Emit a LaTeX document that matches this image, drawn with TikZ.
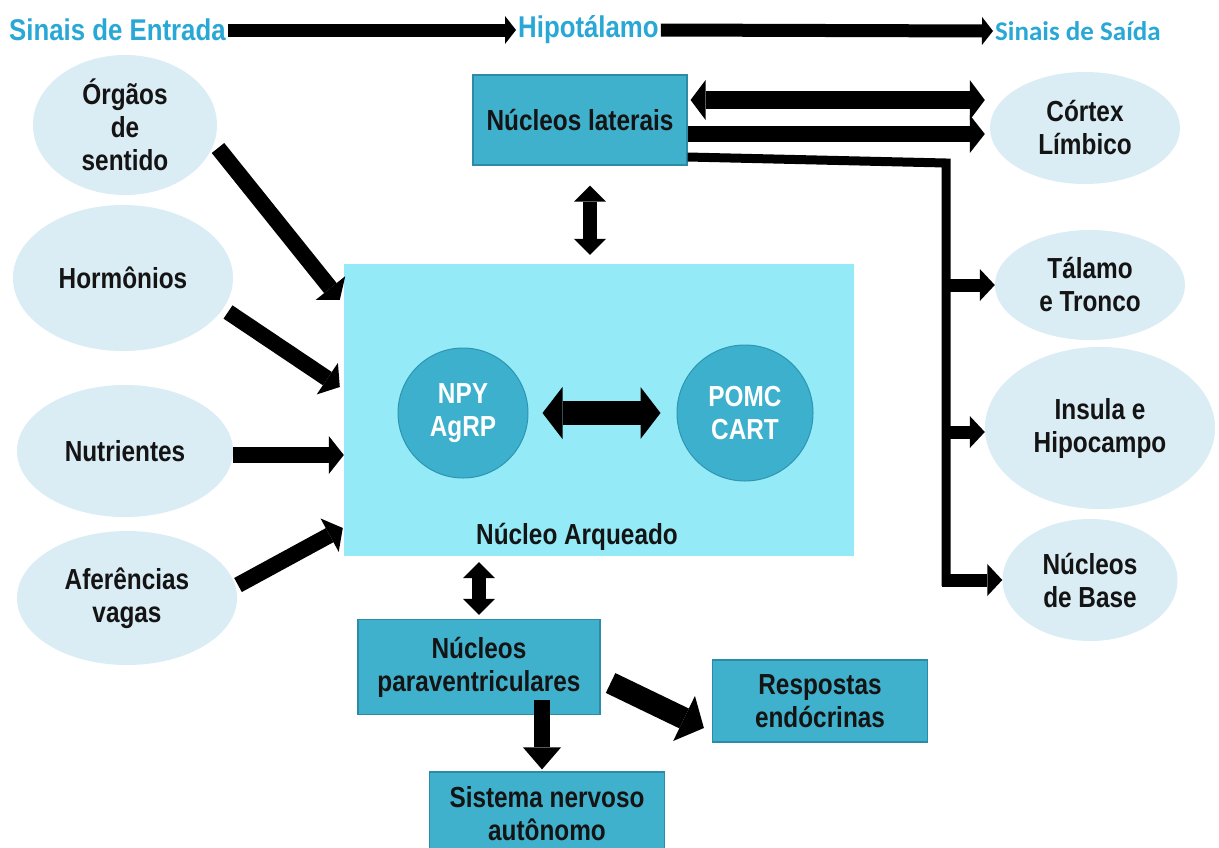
\documentclass[tikz,border=0pt]{standalone}
\usepackage{fontspec}
\setmainfont{Liberation Sans}
\newfontfamily\nar[FakeStretch=0.84]{Liberation Sans}
\newfontfamily\tnar[FakeStretch=0.86]{Liberation Sans}
\newfontfamily\calib{Carlito}
\usetikzlibrary{shapes.geometric,arrows.meta,calc}
\definecolor{boxc}{RGB}{64,177,205}
\definecolor{boxd}{RGB}{44,140,168}
\definecolor{arqc}{RGB}{148,235,247}
\definecolor{circc}{RGB}{60,176,204}
\definecolor{circd}{RGB}{46,150,178}
\definecolor{ellc}{RGB}{218,236,244}
\definecolor{titlec}{RGB}{41,168,214}
\definecolor{txtc}{RGB}{20,20,20}
\tikzset{
  txt/.style={font=\nar\bfseries\fontsize{29}{33}\selectfont, align=center, text=txtc},
  ell/.style={ellipse, fill=ellc, draw=none, inner sep=0pt, txt},
  bx/.style={rectangle, fill=boxc, draw=boxd, line width=1.2pt, inner sep=0pt, txt},
  circ/.style={circle, fill=circc, draw=circd, line width=1pt, inner sep=0pt, txt, text=white},
  ttl/.style={font=\tnar\bfseries\fontsize{30}{32}\selectfont, text=titlec, inner sep=2pt},
  ttlarr/.style={draw=black, line width=13pt, -{Triangle[length=11pt,width=28pt,line width=0pt]}},
  inarr/.style={draw=black, line width=16pt, -{Triangle[length=15pt,width=38pt,line width=0pt]}},
  dblarr/.style={draw=black, line width=18pt, {Triangle[length=15pt,width=40pt,line width=0pt]}-{Triangle[length=15pt,width=40pt,line width=0pt]}},
  vdbl/.style={draw=black, line width=14pt, {Triangle[length=16pt,width=32pt,line width=0pt]}-{Triangle[length=16pt,width=32pt,line width=0pt]}},
  brarr/.style={draw=black, line width=13pt, -{Triangle[length=15pt,width=32pt,line width=0pt]}},
  bigarr/.style={draw=black, line width=22pt, -{Triangle[length=22pt,width=50pt,line width=0pt]}},
  busline/.style={draw=black, line width=9pt, line join=miter}
}
\begin{document}
\begin{tikzpicture}[x=1pt,y=-1pt]
\useasboundingbox (0,0) rectangle (1219,847);
\clip (0,0) rectangle (1219,847);
\fill[white] (0,0) rectangle (1219,847);

% titles
\node[ttl, anchor=west] (tin) at (7,30) {Sinais de Entrada};
\node[ttl, anchor=west] (hip) at (516,30) {Hipotálamo};
\node[font=\calib\bfseries\fontsize{27}{30}\selectfont, text=titlec, anchor=west, inner sep=2pt] (tout) at (993,31) {Sinais de Saída};
\draw[ttlarr] (tin.east) -- (hip.west);
\draw[ttlarr] (hip.east) -- (tout.west);

% input ellipses
\node[ell, minimum width=184pt, minimum height=140pt] (orgaos) at (125,125) {Órgãos\\de\\sentido};
\node[ell, minimum width=220pt, minimum height=146pt] (horm) at (123,278) {Hormônios};
\node[ell, minimum width=216pt, minimum height=132pt] (nutr) at (125,451) {Nutrientes};
\node[ell, minimum width=220pt, minimum height=134pt] (afer) at (127,598) {Aferências\\vagas};

% output ellipses
\node[ell, minimum width=190pt, minimum height=112pt] (cortex) at (1085,128) {Córtex\\Límbico};
\node[ell, minimum width=190pt, minimum height=110pt] (talamo) at (1090,285) {Tálamo\\e Tronco};
\node[ell, minimum width=230pt, minimum height=162pt] (insula) at (1100,428) {Insula e\\Hipocampo};
\node[ell, minimum width=175pt, minimum height=122pt] (base) at (1090,580) {Núcleos\\de Base};

% hypothalamus boxes
\node[bx, minimum width=214pt, minimum height=90pt] (lat) at (580,120) {Núcleos laterais};
\node[rectangle, fill=arqc, draw=none, minimum width=510pt, minimum height=292pt] (arq) at (599,410) {};
\node[txt] (arqlbl) at (577,537) {Núcleo Arqueado};
\node[circ, minimum size=130pt] (npy) at (463,413) {NPY\\AgRP};
\node[circ, minimum size=136pt] (pomc) at (745,413) {POMC\\CART};
\node[bx, minimum width=242pt, minimum height=95pt] (pvn) at (479,667) {Núcleos\\paraventriculares};
\node[bx, minimum width=215pt, minimum height=82pt] (resp) at (820,701) {Respostas\\endócrinas};
\node[bx, minimum width=235pt, minimum height=84pt] (sna) at (547,814) {Sistema nervoso\\autônomo};

% inputs to arcuate
\draw[inarr] ([shift={(93,23)}]orgaos.center) -- ([shift={(-4,36)}]arq.north west);
\draw[inarr] ([shift={(105,34)}]horm.center) -- ([shift={(-4,-23)}]arq.west);
\draw[inarr] ([shift={(0,4)}]nutr.east) -- ([shift={(0,45)}]arq.west);
\draw[inarr] ([shift={(111,-13)}]afer.center) -- ([shift={(-1,118)}]arq.west);

% NPY <-> POMC
\draw[draw=black, line width=24pt, {Triangle[length=20pt,width=52pt,line width=0pt]}-{Triangle[length=20pt,width=52pt,line width=0pt]}, shorten <=14pt, shorten >=16pt] (npy.east) -- (pomc.west);

% lateral <-> arcuate, arcuate <-> PVN
\draw[vdbl] ([shift={(10,20)}]lat.south) -- ([shift={(-9,-9)}]arq.north);
\draw[vdbl] ($(pvn.north |- arq.south)+(0,6)$) -- ([shift={(0,-4)}]pvn.north);

% PVN outputs
\draw[bigarr] ([shift={(10,16)}]pvn.east) -- ([shift={(-8,27)}]resp.west);
\draw[draw=black, line width=16pt, -{Triangle[length=22pt,width=38pt,line width=0pt]}] ($(sna.north |- pvn.south)+(-5,-15)$) -- ([shift={(-5,-2)}]sna.north);

% lateral to cortex
\draw[dblarr] ([shift={(3,-20)}]lat.east) -- ([shift={(-5,-28)}]cortex.west);
\draw[inarr] ([shift={(0,14)}]lat.east) -- ([shift={(-5,6)}]cortex.west);

% bus to lower outputs
\coordinate (bt) at (946,163);
\coordinate (bb) at (946,586);
\draw[busline] ([shift={(0,37)}]lat.east) -- (bt) -- (bb);
\draw[brarr] ($(bt |- talamo.west)+(-4,0)$) -- (talamo.west);
\draw[brarr] ($(bt |- insula.west)+(-4,4)$) -- ([shift={(0,4)}]insula.west);
\draw[brarr] ($(bt |- base.west)+(-4,0)$) -- (base.west);
\end{tikzpicture}
\end{document}
